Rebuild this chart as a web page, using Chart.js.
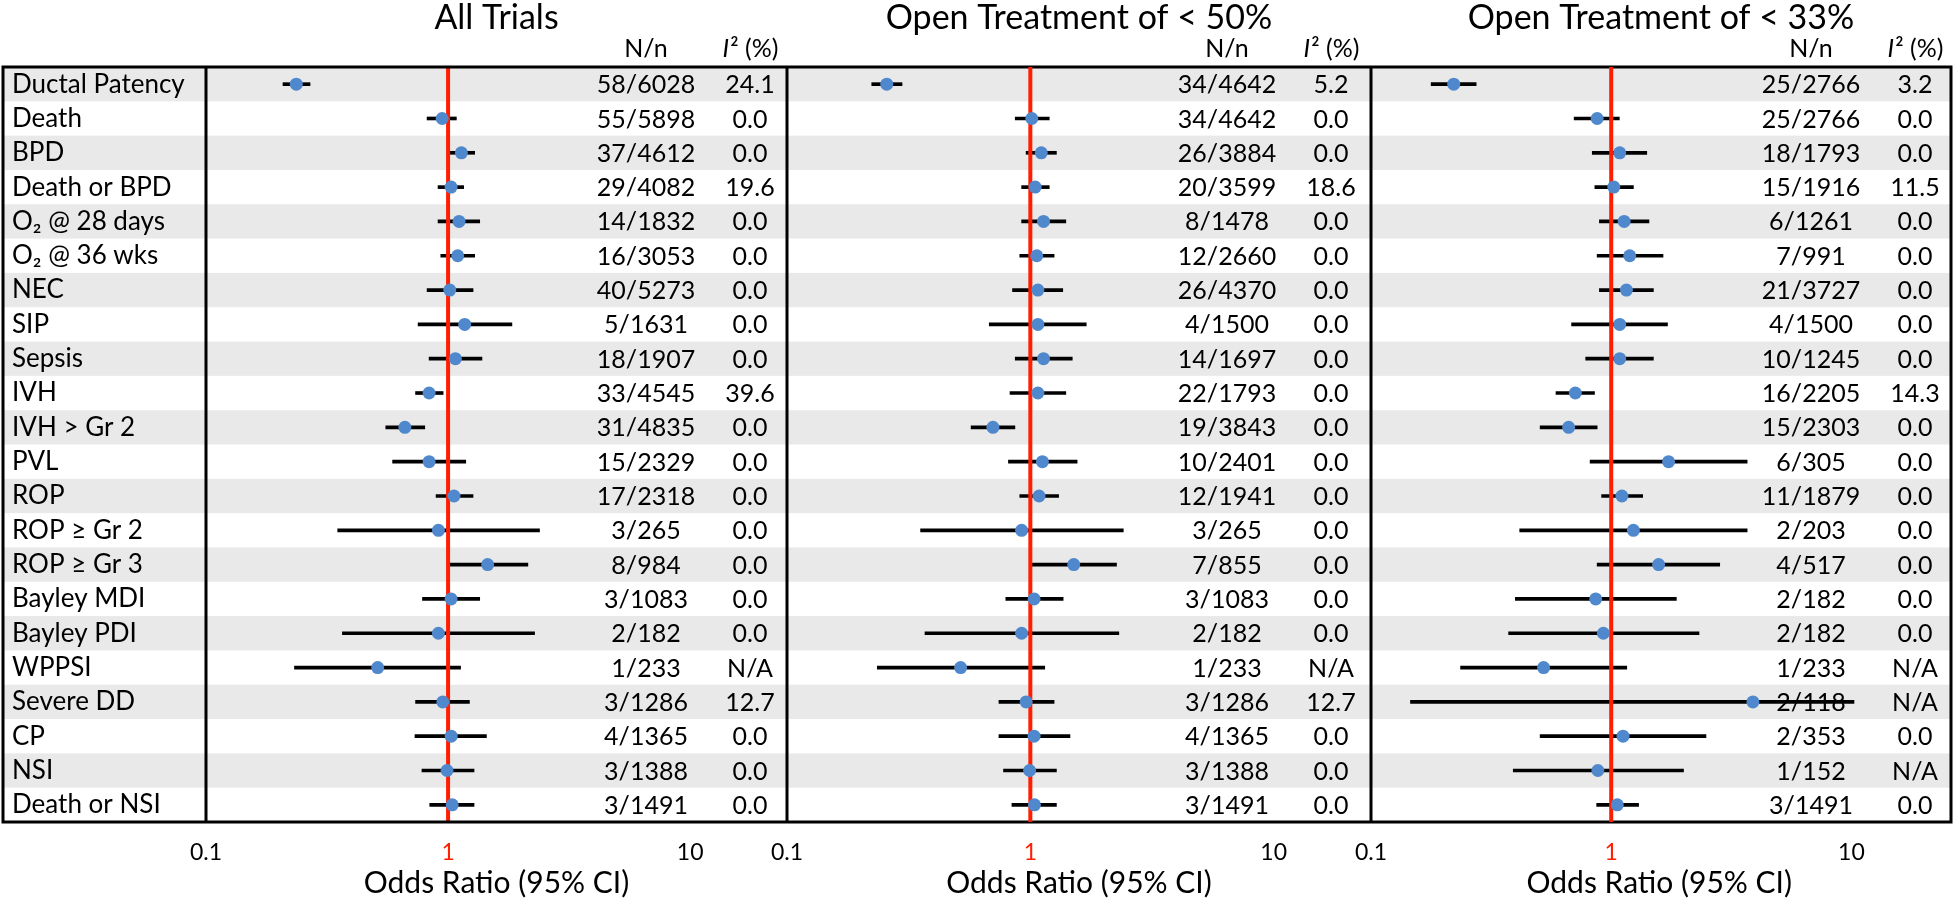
<!DOCTYPE html>
<html>
<head>
<meta charset="utf-8">
<script src="https://cdn.jsdelivr.net/npm/chart.js@4.4.1/dist/chart.umd.min.js"></script>
<style>
html,body{margin:0;padding:0;background:#fff;}
#wrap{position:relative;width:1954px;height:898px;}
#wrap canvas{position:absolute;left:0;top:0;}
</style>
</head>
<body>
<div id="wrap">
  <canvas id="c1" width="1954" height="898"></canvas>
  <canvas id="c2" width="1954" height="898"></canvas>
  <canvas id="c3" width="1954" height="898"></canvas>
</div>
<script>
// rows
const rowLabels = ['Ductal Patency','Death','BPD','Death or BPD','O\u2082 @ 28 days','O\u2082 @ 36 wks','NEC','SIP','Sepsis','IVH','IVH > Gr 2','PVL','ROP','ROP \u2265 Gr 2','ROP \u2265 Gr 3','Bayley MDI','Bayley PDI','WPPSI','Severe DD','CP','NSI','Death or NSI'];
const xTicks = [0.1, 1, 10];

// All Trials
const allN  = ['58/6028','55/5898','37/4612','29/4082','14/1832','16/3053','40/5273','5/1631','18/1907','33/4545','31/4835','15/2329','17/2318','3/265','8/984','3/1083','2/182','1/233','3/1286','4/1365','3/1388','3/1491'];
const allI2 = ['24.1','0.0','0.0','19.6','0.0','0.0','0.0','0.0','0.0','39.6','0.0','0.0','0.0','0.0','0.0','0.0','0.0','N/A','12.7','0.0','0.0','0.0'];
const allOR = [0.236,0.945,1.135,1.029,1.11,1.096,1.016,1.171,1.072,0.835,0.663,0.835,1.058,0.912,1.457,1.029,0.912,0.512,0.951,1.03,0.99,1.04];
const allLo = [0.208,0.819,0.997,0.909,0.909,0.933,0.819,0.752,0.835,0.734,0.553,0.59,0.892,0.35,0.997,0.784,0.366,0.232,0.734,0.73,0.78,0.84];
const allHi = [0.269,1.082,1.288,1.16,1.351,1.288,1.268,1.835,1.38,0.954,0.801,1.183,1.268,2.386,2.136,1.351,2.276,1.126,1.225,1.44,1.28,1.28];

// Open treatment < 50%
const p50N  = ['34/4642','34/4642','26/3884','20/3599','8/1478','12/2660','26/4370','4/1500','14/1697','22/1793','19/3843','10/2401','12/1941','3/265','7/855','3/1083','2/182','1/233','3/1286','4/1365','3/1388','3/1491'];
const p50I2 = ['5.2','0.0','0.0','18.6','0.0','0.0','0.0','0.0','0.0','0.0','0.0','0.0','0.0','0.0','0.0','0.0','0.0','N/A','12.7','0.0','0.0','0.0'];
const p50OR = [0.257,1.014,1.109,1.047,1.133,1.063,1.074,1.074,1.133,1.074,0.702,1.121,1.086,0.921,1.508,1.036,0.921,0.517,0.961,1.036,0.993,1.04];
const p50Lo = [0.223,0.867,0.961,0.921,0.921,0.905,0.845,0.678,0.867,0.825,0.571,0.813,0.905,0.354,1.011,0.793,0.369,0.235,0.743,0.743,0.776,0.84];
const p50Hi = [0.297,1.196,1.28,1.196,1.399,1.252,1.359,1.697,1.487,1.399,0.864,1.557,1.307,2.41,2.26,1.364,2.31,1.146,1.252,1.455,1.28,1.28];

// Open treatment < 33%
const p33N  = ['25/2766','25/2766','18/1793','15/1916','6/1261','7/991','21/3727','4/1500','10/1245','16/2205','15/2303','6/305','11/1879','2/203','4/517','2/182','2/182','1/233','2/118','2/353','1/152','3/1491'];
const p33I2 = ['3.2','0.0','0.0','11.5','0.0','0.0','0.0','0.0','0.0','14.3','0.0','0.0','0.0','0.0','0.0','0.0','0.0','N/A','N/A','0.0','N/A','0.0'];
const p33OR = [0.221,0.874,1.085,1.025,1.132,1.194,1.157,1.085,1.085,0.709,0.665,1.733,1.108,1.237,1.575,0.862,0.928,0.523,3.89,1.12,0.88,1.06];
const p33Lo = [0.178,0.701,0.834,0.855,0.893,0.874,0.893,0.684,0.783,0.589,0.506,0.817,0.912,0.416,0.874,0.399,0.374,0.236,0.146,0.506,0.391,0.87];
const p33Hi = [0.274,1.081,1.406,1.237,1.436,1.643,1.498,1.715,1.498,0.852,0.874,3.68,1.352,3.68,2.83,1.867,2.32,1.161,10.25,2.48,2.0,1.30];

const FONT = 'Lato, "Open Sans", sans-serif';
const RED = '#ff1e00';
const DOT = '#4f88cc';
const W = 1954, H = 898, BOTTOM = 822;
Chart.defaults.font.family = FONT;

function drawFrame(ctx, top, bottom){
  ctx.save();
  ctx.strokeStyle = '#000';
  ctx.lineWidth = 3;
  ctx.strokeRect(3, top, 1948, bottom - top);
  [206, 787, 1371].forEach(x => {
    ctx.beginPath(); ctx.moveTo(x, top); ctx.lineTo(x, bottom); ctx.stroke();
  });
  ctx.restore();
}

function initForest(canvasId, left, right, title, nn, i2, or, lo, hi, first){
  const ctx = document.getElementById(canvasId).getContext('2d');
  const plugin = {
    id: 'forest',
    beforeDraw(chart){
      if(!first) return;
      const {top, bottom} = chart.chartArea;
      const rowH = (bottom - top) / rowLabels.length;
      const c = chart.ctx;
      c.save();
      c.fillStyle = '#e9e9e9';
      rowLabels.forEach((l, i) => {
        if(i % 2 === 0) c.fillRect(3, top + i*rowH, 1948, rowH);
      });
      c.restore();
    },
    afterDatasetDraw(chart, args){
      if(args.index !== 0) return;
      const x = chart.scales.x.getPixelForValue(1);
      const c = chart.ctx;
      c.save();
      c.strokeStyle = RED; c.lineWidth = 4;
      c.beginPath(); c.moveTo(x, chart.chartArea.top); c.lineTo(x, chart.chartArea.bottom); c.stroke();
      c.restore();
    },
    afterDraw(chart){
      const c = chart.ctx, ys = chart.scales.y;
      const cx = (left + right) / 2;
      c.save();
      c.fillStyle = '#000';
      c.textAlign = 'center';
      c.textBaseline = 'alphabetic';
      c.font = '34px ' + FONT;
      c.fillText(title, cx, 29);
      c.font = '25px ' + FONT;
      c.fillText('N/n', left + 440, 57);
      // I² (%) header with italic I
      const rest = '\u00b2 (%)';
      c.font = 'italic 25px ' + FONT;
      const wI = c.measureText('I').width;
      c.font = '25px ' + FONT;
      const wR = c.measureText(rest).width;
      const x0 = left + 544 - (wI + wR) / 2;
      c.textAlign = 'left';
      c.font = 'italic 25px ' + FONT;
      c.fillText('I', x0, 57);
      c.font = '25px ' + FONT;
      c.fillText(rest, x0 + wI + 1, 57);
      c.textAlign = 'center';
      c.textBaseline = 'middle';
      nn.forEach((t, i) => {
        const y = ys.getPixelForValue(i) + 1;
        c.fillText(t, left + 440, y);
        c.fillText(i2[i], left + 544, y);
      });
      c.restore();
      if(first) drawFrame(c, chart.chartArea.top, chart.chartArea.bottom);
    }
  };
  new Chart(ctx, {
    type: 'bar',
    data: {
      labels: rowLabels,
      datasets: [
        {data: lo.map((v, i) => [v, hi[i]]), backgroundColor: '#000', borderWidth: 0, barThickness: 3, order: 2},
        {type: 'scatter', data: or.map((v, i) => ({x: v, y: rowLabels[i]})), pointRadius: 6.5, pointHoverRadius: 6.5,
         pointBackgroundColor: DOT, pointBorderWidth: 0, order: 1}
      ]
    },
    options: {
      indexAxis: 'y',
      responsive: false,
      animation: false,
      layout: {padding: {left: first ? 12 : left, right: W - right, top: 67, bottom: 0}},
      plugins: {legend: {display: false}, tooltip: {enabled: false}, title: {display: false}},
      scales: {
        x: {
          type: 'logarithmic', min: 0.1, max: 25.12, position: 'bottom',
          afterBuildTicks: s => { s.ticks = xTicks.map(v => ({value: v})); },
          afterFit: s => { s.height = H - BOTTOM; },
          grid: {display: false, drawTicks: false}, border: {display: false},
          ticks: {padding: 17, autoSkip: false, maxRotation: 0, font: {size: 23},
                  color: c => (c.tick && c.tick.value === 1) ? RED : '#000',
                  callback: v => String(v)},
          title: {display: true, text: 'Odds Ratio (95% CI)', color: '#000', font: {size: 30, lineHeight: 1}, padding: {top: 0, bottom: 0}}
        },
        y: {
          type: 'category', offset: true, display: first,
          afterFit: s => { if(first) s.width = 194; },
          grid: {display: false, drawTicks: false}, border: {display: false},
          ticks: {crossAlign: 'far', padding: 0, autoSkip: false, font: {size: 26}, color: '#000'}
        }
      }
    },
    plugins: [plugin]
  });
}

initForest('c1', 206, 787, 'All Trials', allN, allI2, allOR, allLo, allHi, true);
initForest('c2', 787, 1371, 'Open Treatment of < 50%', p50N, p50I2, p50OR, p50Lo, p50Hi, false);
initForest('c3', 1371, 1951, 'Open Treatment of < 33%', p33N, p33I2, p33OR, p33Lo, p33Hi, false);
</script>
</body>
</html>
